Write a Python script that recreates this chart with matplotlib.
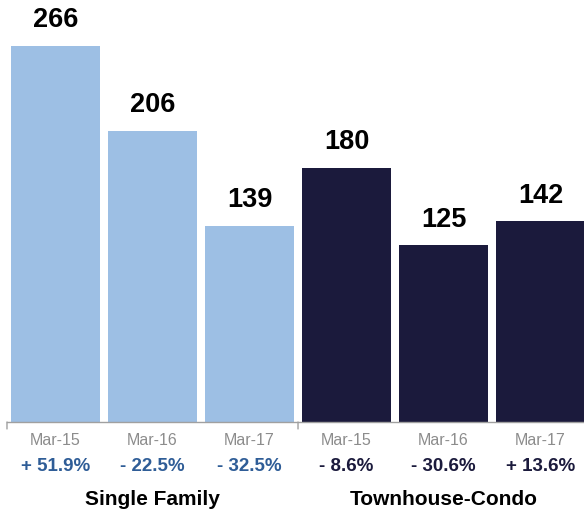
import matplotlib
matplotlib.use("Agg")
import matplotlib.pyplot as plt
import numpy as np

plt.rcParams['font.family'] = ['Liberation Sans', 'DejaVu Sans']

# data
groups = ["Single Family", "Townhouse-Condo"]
periods = ["Mar-15", "Mar-16", "Mar-17"]
single_family = [266, 206, 139]
townhouse_condo = [180, 125, 142]
sf_change = ["+ 51.9%", "- 22.5%", "- 32.5%"]
tc_change = ["- 8.6%", "- 30.6%", "+ 13.6%"]

sf_color = "#9dbfe4"
tc_color = "#1b1a3c"
sf_text = "#2f5d97"
tc_text = "#1b1a3c"

W, H = 584, 512
fig = plt.figure(figsize=(W / 100, H / 100), dpi=100)
base = 422
ax = fig.add_axes([0, (H - base) / H, 1, base / H])

values = single_family + townhouse_condo
colors = [sf_color] * 3 + [tc_color] * 3
x = np.arange(len(values))
ax.bar(x, values, width=0.917, color=colors)

ax.set_xlim(-0.572, 5.448)
ax.set_ylim(0, base / 1.4135)
ax.axis("off")

for xi, v in zip(x, values):
    ax.annotate(str(v), (xi, v), xytext=(0, 18.5), textcoords="offset points",
                ha="center", va="center", fontsize=19.5, fontweight="bold")

# axis line and group ticks
ax.plot([-0.5, 5.6], [0, 0], color="#a0a0a0", lw=1, clip_on=False)
for b in [-0.5, 2.5]:
    ax.annotate("", xy=(b, 0), xytext=(0, -5), textcoords="offset points",
                arrowprops=dict(arrowstyle="-", color="#a0a0a0", lw=1,
                                shrinkA=0, shrinkB=0))

labels = periods + periods
changes = sf_change + tc_change
ctext = [sf_text] * 3 + [tc_text] * 3
for xi, lab, ch, c in zip(x, labels, changes, ctext):
    ax.annotate(lab, (xi, 0), xytext=(0, -13), textcoords="offset points",
                ha="center", va="center", fontsize=11.5, color="#8c8c8c")
    ax.annotate(ch, (xi, 0), xytext=(0, -32), textcoords="offset points",
                ha="center", va="center", fontsize=13.5, fontweight="bold",
                color=c)

for gi, g in enumerate(groups):
    ax.annotate(g, (1 + 3 * gi, 0), xytext=(0, -55.5), textcoords="offset points",
                ha="center", va="center", fontsize=15, fontweight="bold")

fig.savefig("out.png", dpi=100)
